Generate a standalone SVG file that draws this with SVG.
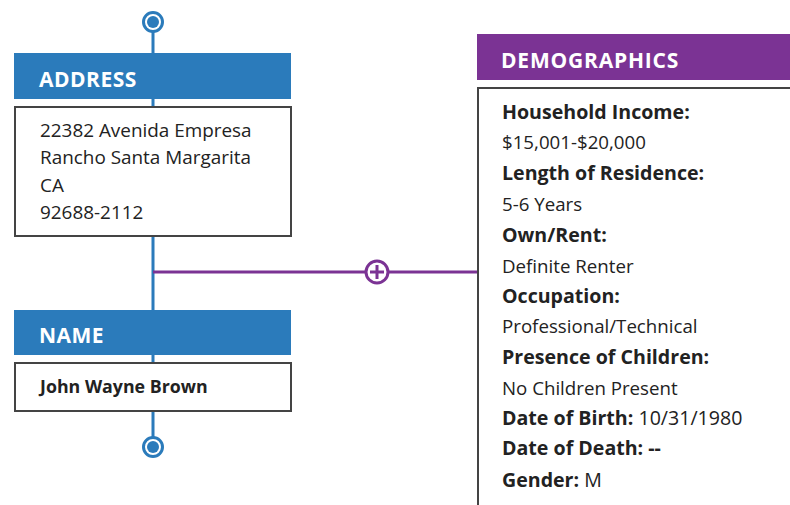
<svg xmlns="http://www.w3.org/2000/svg" width="790" height="505" viewBox="0 0 790 505">
<style>
.hdrB{fill:#2b7bbb}
.hdrP{fill:#7b3394}
.box{fill:#fff;stroke:#444;stroke-width:2}
.ht{font-family:"Open Sans","Noto Sans",sans-serif;font-weight:bold;font-size:21px;letter-spacing:0.5px;fill:#fff}
.t{font-family:"Open Sans","Noto Sans",sans-serif;fill:#222}
.a{font-size:18.9px}
.n{font-size:17.8px;font-weight:bold}
.l{font-size:19.6px;font-weight:bold}
.v{font-size:18.7px}
.r{font-weight:normal}
</style>
<rect width="790" height="505" fill="#fff"/>
<g id="connectors">
<line x1="153" y1="30" x2="153" y2="439" stroke="#2b7bbb" stroke-width="3"/>
<line x1="153" y1="272" x2="478" y2="272" stroke="#7b3394" stroke-width="3"/>
<circle cx="153" cy="22" r="9.5" fill="#fff" stroke="#2b7bbb" stroke-width="3"/>
<circle cx="153" cy="22" r="6" fill="#2b7bbb"/>
<circle cx="153" cy="447" r="9.5" fill="#fff" stroke="#2b7bbb" stroke-width="3"/>
<circle cx="153" cy="447" r="6" fill="#2b7bbb"/>
<circle cx="377" cy="272" r="11" fill="#fff" stroke="#7b3394" stroke-width="3"/>
<path d="M370 272H384M377 265V279" stroke="#7b3394" stroke-width="3"/>
</g>
<g id="address">
<rect class="hdrB" x="14" y="53" width="277" height="46"/>
<text class="ht" x="39" y="87">ADDRESS</text>
<rect class="box" x="15" y="107" width="276" height="129"/>
<text class="t a" x="40" y="137">22382 Avenida Empresa</text>
<text class="t a" x="40" y="164">Rancho Santa Margarita</text>
<text class="t a" x="40" y="192">CA</text>
<text class="t a" x="40" y="219">92688-2112</text>
</g>
<g id="name">
<rect class="hdrB" x="14" y="310" width="277" height="45"/>
<text class="ht" x="39" y="343">NAME</text>
<rect class="box" x="15" y="363" width="276" height="48"/>
<text class="t n" x="40" y="393">John Wayne Brown</text>
</g>
<g id="demographics">
<rect class="hdrP" x="477" y="34" width="313" height="46"/>
<text class="ht" x="501" y="68" style="letter-spacing:0.8px">DEMOGRAPHICS</text>
<path d="M791 88H478V506" fill="none" stroke="#444" stroke-width="2"/>
<text class="t l" x="502" y="119">Household Income:</text>
<text class="t v" x="502" y="149">$15,001-$20,000</text>
<text class="t l" x="502" y="180">Length of Residence:</text>
<text class="t v" x="502" y="211">5-6 Years</text>
<text class="t l" x="502" y="242">Own/Rent:</text>
<text class="t v" x="502" y="273">Definite Renter</text>
<text class="t l" x="502" y="303">Occupation:</text>
<text class="t v" x="502" y="333">Professional/Technical</text>
<text class="t l" x="502" y="364">Presence of Children:</text>
<text class="t v" x="502" y="395">No Children Present</text>
<text class="t l" x="502" y="425">Date of Birth: <tspan class="r">10/31/1980</tspan></text>
<text class="t l" x="502" y="455">Date of Death: --</text>
<text class="t l" x="502" y="487">Gender: <tspan class="r">M</tspan></text>
</g>
</svg>
